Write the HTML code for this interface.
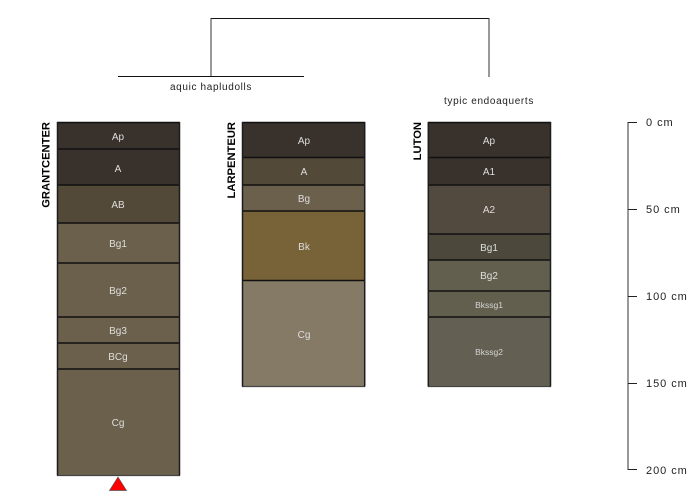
<!DOCTYPE html>
<html>
<head>
<meta charset="utf-8">
<style>
html,body{margin:0;padding:0;background:#fff;width:700px;height:500px;overflow:hidden}
svg{display:block}
text{font-family:"Liberation Sans",sans-serif}
.h{stroke:#111;stroke-width:1.5;fill:none}
.v{stroke:#1c1c1c;stroke-width:1.5;fill:none}
.b{stroke:#444;stroke-width:1.2;fill:none}
.l{fill:#dedede;font-size:10px;text-anchor:middle}
.s{fill:#d4d4d4;font-size:8.5px;text-anchor:middle}
.n{fill:#000;font-size:11.2px;font-weight:bold;text-anchor:end}
.t{fill:#222;font-size:10px;text-anchor:middle;letter-spacing:.65px}
.d{fill:#222;font-size:11px;letter-spacing:.95px}
</style>
</head>
<body>
<svg width="700" height="500" viewBox="0 0 700 500" xmlns="http://www.w3.org/2000/svg">
<!-- dendrogram -->
<g fill="none">
<path d="M118 76.500H304" stroke="#111"/>
<path d="M211 18.500H489" stroke="#111"/>
<path d="M211 18V76" stroke="#333"/>
<path d="M489 18V77" stroke="#333"/>
</g>
<text class="t" x="211" y="90">aquic hapludolls</text>
<text class="t" x="489" y="104">typic endoaquerts</text>

<!-- GRANTCENTER -->
<g shape-rendering="crispEdges">
<rect x="57" y="122" width="123" height="27" fill="#39312c"/>
<rect x="57" y="149" width="123" height="36" fill="#39312c"/>
<rect x="57" y="185" width="123" height="38" fill="#524938"/>
<rect x="57" y="223" width="123" height="40" fill="#6b604c"/>
<rect x="57" y="263" width="123" height="54" fill="#6b604c"/>
<rect x="57" y="317" width="123" height="26" fill="#6b604c"/>
<rect x="57" y="343" width="123" height="26" fill="#6b604c"/>
<rect x="57" y="369" width="123" height="106" fill="#6b604c"/>
</g>
<path class="h" d="M57 122.500H180M57 149H180M57 185H180M57 223H180M57 263H180M57 317H180M57 343H180M57 369H180"/>
<path class="b" d="M57 475.500H180"/>
<path class="v" d="M57.500 122V475.500M179.500 122V475.500"/>
<text class="n" transform="translate(49.500,122) rotate(-90)" x="0" y="0">GRANTCENTER</text>
<text class="l" x="118" y="140">Ap</text>
<text class="l" x="118" y="172">A</text>
<text class="l" x="118" y="208">AB</text>
<text class="l" x="118" y="247">Bg1</text>
<text class="l" x="118" y="294">Bg2</text>
<text class="l" x="118" y="334">Bg3</text>
<text class="l" x="118" y="360">BCg</text>
<text class="l" x="118" y="426">Cg</text>
<path d="M118 477L126.500 490.500H109.500Z" fill="#f00" stroke="#555" stroke-width=".7"/>

<!-- LARPENTEUR -->
<g shape-rendering="crispEdges">
<rect x="242" y="122" width="123" height="35" fill="#39312c"/>
<rect x="242" y="157" width="123" height="28" fill="#524938"/>
<rect x="242" y="185" width="123" height="26" fill="#6b604c"/>
<rect x="242" y="211" width="123" height="69" fill="#786238"/>
<rect x="242" y="280" width="123" height="106" fill="#857a66"/>
</g>
<path class="h" d="M242 122.500H365M242 157.500H365M242 185H365M242 211H365M242 280.500H365"/>
<path class="b" d="M242 386.500H365"/>
<path class="v" d="M242.500 122V386.500M364.700 122V386.500"/>
<text class="n" transform="translate(235,122) rotate(-90)" x="0" y="0">LARPENTEUR</text>
<text class="l" x="304" y="144">Ap</text>
<text class="l" x="304" y="175">A</text>
<text class="l" x="304" y="202">Bg</text>
<text class="l" x="304" y="250">Bk</text>
<text class="l" x="304" y="338">Cg</text>

<!-- LUTON -->
<g shape-rendering="crispEdges">
<rect x="428" y="122" width="122" height="35" fill="#39312c"/>
<rect x="428" y="157" width="122" height="28" fill="#39312c"/>
<rect x="428" y="185" width="122" height="49" fill="#534a3f"/>
<rect x="428" y="234" width="122" height="26" fill="#4c483c"/>
<rect x="428" y="260" width="122" height="31" fill="#635f4f"/>
<rect x="428" y="291" width="122" height="26" fill="#635f4f"/>
<rect x="428" y="317" width="122" height="69" fill="#635f52"/>
</g>
<path class="h" d="M428 122.500H551M428 157.500H551M428 185H551M428 234H551M428 260H551M428 291H551M428 317H551"/>
<path class="b" d="M428 386.500H551"/>
<path class="v" d="M428.300 122V386.500M550.500 122V386.500"/>
<text class="n" transform="translate(421,122) rotate(-90)" x="0" y="0">LUTON</text>
<text class="l" x="489" y="144">Ap</text>
<text class="l" x="489" y="175">A1</text>
<text class="l" x="489" y="213">A2</text>
<text class="l" x="489" y="251">Bg1</text>
<text class="l" x="489" y="279">Bg2</text>
<text class="s" x="489" y="308">Bkssg1</text>
<text class="s" x="489" y="355">Bkssg2</text>

<!-- depth axis -->
<g fill="none">
<path d="M628 122V470" stroke="#333"/>
<path d="M628 122.500H637M628 209.500H637M628 296.500H637M628 383.500H637M628 469.500H637" stroke="#222"/>
</g>
<text class="d" x="646" y="126">0 cm</text>
<text class="d" x="646" y="213">50 cm</text>
<text class="d" x="646" y="300">100 cm</text>
<text class="d" x="646" y="387">150 cm</text>
<text class="d" x="646" y="474">200 cm</text>
</svg>
</body>
</html>
